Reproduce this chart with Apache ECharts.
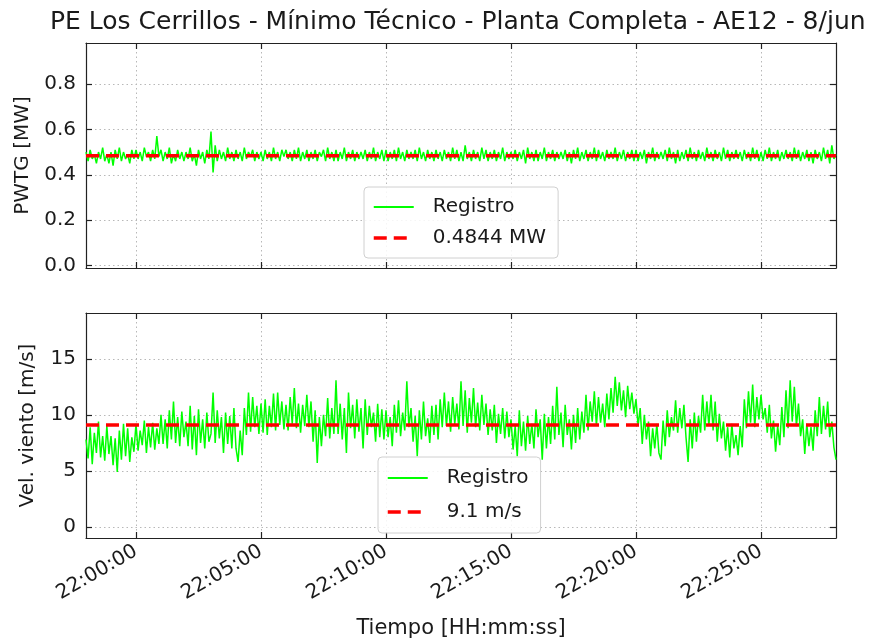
<!DOCTYPE html>
<html><head><meta charset="utf-8">
<script src="https://cdn.jsdelivr.net/npm/echarts@6/dist/echarts.min.js"></script>
<style>html,body{margin:0;padding:0;background:#fff}#c{width:878px;height:644px}</style>
</head><body><div id="c"></div>
<script>
const titleText = 'PE Los Cerrillos - Mínimo Técnico - Planta Completa - AE12 - 8/jun';
const startSec = 79080; // 21:58:00
const endSec = 80880;   // 22:28:00
const stepSec = 5;
const powerValues = [
.50,.46,.51,.47,.49,.45,.50,.47,.52,.46,.49,.45,
.50,.44,.51,.47,.52,.46,.50,.47,.49,.45,.51,.47,
.51,.47,.50,.46,.52,.48,.50,.46,.51,.47,.57,.48,
.51,.46,.50,.47,.52,.45,.49,.46,.51,.47,.50,.46,
.50,.47,.52,.46,.49,.44,.51,.47,.50,.45,.51,.47,
.59,.41,.53,.46,.51,.47,.50,.46,.52,.47,.50,.46,
.51,.47,.50,.46,.52,.47,.50,.48,.51,.46,.50,.47,
.50,.46,.51,.47,.50,.46,.52,.47,.50,.46,.51,.48,
.51,.47,.50,.46,.51,.47,.52,.46,.50,.47,.51,.46,
.50,.47,.51,.46,.50,.48,.51,.46,.52,.47,.50,.46,
.51,.46,.50,.47,.52,.46,.50,.47,.51,.46,.50,.47,
.50,.47,.51,.46,.50,.47,.52,.46,.50,.47,.51,.46,
.51,.46,.50,.47,.51,.46,.52,.47,.50,.46,.51,.47,
.50,.47,.51,.46,.52,.47,.50,.46,.51,.47,.50,.46,
.51,.47,.50,.46,.51,.47,.50,.46,.52,.47,.51,.46,
.50,.46,.53,.47,.50,.46,.51,.47,.50,.46,.52,.47,
.51,.46,.50,.47,.51,.46,.50,.47,.52,.46,.50,.47,
.50,.47,.51,.46,.50,.47,.51,.45,.52,.47,.50,.46,
.51,.46,.50,.47,.52,.46,.50,.47,.51,.46,.50,.47,
.50,.47,.51,.46,.50,.45,.51,.47,.52,.46,.50,.47,
.51,.46,.50,.47,.52,.46,.51,.47,.50,.46,.51,.47,
.50,.47,.52,.46,.50,.47,.51,.46,.50,.47,.51,.46,
.51,.46,.50,.47,.51,.45,.50,.47,.52,.46,.50,.47,
.50,.47,.51,.46,.52,.47,.50,.45,.51,.46,.50,.47,
.51,.46,.52,.47,.50,.46,.51,.47,.50,.46,.52,.47,
.50,.46,.51,.47,.50,.46,.52,.47,.51,.46,.50,.47,
.51,.47,.50,.46,.51,.47,.50,.46,.52,.47,.51,.46,
.50,.46,.51,.47,.52,.46,.50,.47,.51,.46,.50,.47,
.51,.47,.50,.46,.52,.47,.51,.46,.50,.47,.51,.46,
.50,.45,.51,.47,.50,.46,.52,.47,.51,.45,.53,.47,
.49
];
const windValues = [
7.8,6.1,8.9,5.6,8.4,6.6,9.4,6.2,8.1,5.9,9.0,6.5,
8.1,5.5,7.9,4.9,8.6,6.0,9.2,6.3,8.8,5.8,8.0,6.7,
9.2,6.8,8.6,7.3,9.5,6.6,8.9,7.1,9.3,6.9,8.8,7.4,
10.0,7.4,9.6,7.0,10.4,7.8,11.2,7.5,9.8,7.2,10.3,8.0,
9.4,7.2,10.8,6.9,9.9,6.4,10.5,7.5,9.6,7.0,10.2,7.6,
8.3,12.0,7.5,10.4,7.9,9.8,6.6,10.2,7.4,9.9,7.0,10.6,
7.0,5.8,8.6,6.4,10.6,8.2,12.0,8.5,11.6,8.9,10.8,8.3,
11.0,8.4,11.4,8.2,10.8,8.9,11.9,8.6,12.0,9.1,11.2,8.7,
10.9,8.6,11.6,9.2,12.4,8.8,11.0,8.4,10.9,9.0,11.8,8.9,
11.2,7.6,10.4,5.7,9.8,7.2,10.0,8.1,11.5,7.9,10.6,8.3,
13.1,8.3,11.0,7.8,10.6,6.6,12.0,8.8,10.9,7.9,11.4,8.5,
10.6,7.0,11.4,8.2,10.8,8.9,10.2,7.6,11.0,8.0,10.5,7.8,
10.4,8.0,9.8,7.2,10.9,8.4,11.3,8.1,10.2,8.6,13.0,8.9,
10.6,7.6,9.9,6.3,10.4,7.8,11.2,8.1,9.7,7.5,10.8,8.2,
10.9,7.8,11.4,8.9,12.0,9.0,11.2,8.5,11.6,9.2,11.0,8.7,
13.0,9.0,12.2,8.4,11.5,9.3,12.4,8.9,11.1,8.6,11.8,9.1,
11.0,8.2,10.5,8.6,10.9,7.5,10.1,8.3,10.6,7.9,10.3,8.0,
9.6,6.9,9.0,6.3,10.4,7.2,9.4,6.8,9.9,7.4,9.2,7.0,
10.5,8.0,9.6,6.0,10.1,7.0,9.8,7.4,10.8,7.8,12.5,8.2,
10.2,7.1,10.9,8.2,9.6,6.9,10.0,7.5,10.6,7.8,10.3,8.4,
11.8,8.6,11.2,9.4,12.1,9.0,11.6,9.3,11.0,8.9,11.9,9.6,
12.4,10.2,13.4,10.8,12.9,10.4,12.2,9.8,12.6,10.5,12.0,10.1,
11.4,9.0,10.6,7.4,10.0,7.8,9.4,6.3,8.8,7.0,9.2,6.6,
6.0,9.5,7.2,10.4,8.0,9.8,8.6,11.3,8.4,10.6,8.8,10.9,
8.0,5.8,9.6,7.0,10.2,7.6,9.9,8.4,11.8,8.6,11.2,9.0,
11.8,8.6,11.2,7.6,10.1,7.9,9.4,6.8,8.9,6.2,9.2,7.0,
8.2,6.4,9.0,7.1,11.4,8.8,12.1,9.3,12.7,8.9,11.6,9.6,
11.8,9.6,10.6,8.4,10.9,7.9,9.5,6.7,9.0,7.3,10.7,8.0,
12.2,8.8,13.1,9.4,12.5,9.0,11.0,8.1,9.6,6.5,9.2,7.2,
8.9,6.8,10.4,8.1,11.6,8.3,10.8,8.7,11.2,8.0,9.4,7.1,
6.0
];
const powerMean = 0.4844;
const windMean = 9.1;
const powerMeanLabel = '0.4844 MW';
const windMeanLabel = '9.1 m/s';
const seriesLabel = 'Registro';
const xTickSec = [79200, 79500, 79800, 80100, 80400, 80700];
const powerTicks = [0, 0.2, 0.4, 0.6, 0.8];
const windTicks = [0, 5, 10, 15];

function fmtTime(s) {
  const h = Math.floor(s / 3600), m = Math.floor((s % 3600) / 60), sec = s % 60;
  const p = n => String(n).padStart(2, '0');
  return p(h) + ':' + p(m) + ':' + p(sec);
}
const powerData = powerValues.map((v, i) => [startSec + i * stepSec, v]);
const windData = windValues.map((v, i) => [startSec + i * stepSec, v]);

const FONT = 'DejaVu Sans';
const TXT = '#1a1a1a';
const frame = { show: true, onZero: false, lineStyle: { color: '#222', width: 1.2 } };
const grid = { show: true, lineStyle: { color: '#b8b8b8', type: [1.5, 3], width: 1 } };

function xAx(gi, pos, labels, split) {
  return {
    type: 'value', gridIndex: gi, position: pos, min: startSec, max: endSec,
    axisLine: frame,
    axisTick: { show: true, inside: true, length: 6, customValues: xTickSec, lineStyle: { color: '#222', width: 1.2 } },
    axisLabel: labels ? {
      show: true, customValues: xTickSec, rotate: 30, fontFamily: FONT, fontSize: 20, color: TXT, margin: 12,
      formatter: v => fmtTime(v)
    } : { show: false, customValues: xTickSec },
    splitLine: split ? grid : { show: false },
    name: (labels ? 'Tiempo [HH:mm:ss]' : ''), nameLocation: 'middle', nameGap: 80,
    nameTextStyle: { fontFamily: FONT, fontSize: 21, color: TXT }
  };
}
function yAx(gi, pos, min, max, ticks, name, nameGap, dec, split) {
  const left = pos === 'left';
  return {
    type: 'value', gridIndex: gi, position: pos, min: min, max: max,
    axisLine: frame,
    axisTick: { show: true, inside: true, length: 6, customValues: ticks, lineStyle: { color: '#222', width: 1.2 } },
    axisLabel: left ? { show: true, customValues: ticks, fontFamily: FONT, fontSize: 20, color: TXT, margin: 10,
      formatter: v => v.toFixed(dec) } : { show: false, customValues: ticks },
    splitLine: split ? grid : { show: false },
    name: left ? name : '', nameLocation: 'middle', nameGap: nameGap,
    nameTextStyle: { fontFamily: FONT, fontSize: 20, color: TXT }
  };
}

const legendBase = {
  orient: 'vertical', backgroundColor: 'rgba(255,255,255,0.85)', borderColor: '#d0d0d0', borderWidth: 1,
  borderRadius: 4, padding: [10, 12, 10, 8], itemWidth: 40, itemHeight: 14,
  itemStyle: { opacity: 0 },
  textStyle: { fontFamily: FONT, fontSize: 20, color: TXT, padding: [0, 0, 0, 14] }
};
const greenLeg = { name: seriesLabel, lineStyle: { width: 2 } };

const chart = echarts.init(document.getElementById('c'), null, { renderer: 'canvas' });
chart.setOption({
  backgroundColor: '#fff',
  animation: false,
  title: { text: titleText, left: 45, top: 5, textStyle: { fontFamily: FONT, fontSize: 25, fontWeight: 'normal', color: TXT } },
  grid: [
    { left: 86, top: 43, width: 750, height: 225 },
    { left: 86, top: 313, width: 750, height: 225 }
  ],
  xAxis: [ xAx(0, 'bottom', false, true), xAx(0, 'top', false, false), xAx(1, 'bottom', true, true), xAx(1, 'top', false, false) ],
  yAxis: [
    yAx(0, 'left', -0.01, 0.98, powerTicks, 'PWTG [MW]', 53, 1, true),
    yAx(0, 'right', -0.01, 0.98, powerTicks, '', 0, 1, false),
    yAx(1, 'left', -1, 19.1, windTicks, 'Vel. viento [m/s]', 48, 0, true),
    yAx(1, 'right', -1, 19.1, windTicks, '', 0, 0, false)
  ],
  legend: [
    Object.assign({}, legendBase, { left: 364, top: 187, itemGap: 11, data: [greenLeg, { name: powerMeanLabel, lineStyle: { width: 3.5 } }] }),
    Object.assign({}, legendBase, { left: 378, top: 457, itemGap: 14, padding: [11, 12, 11, 8], data: [greenLeg, { name: windMeanLabel, lineStyle: { width: 3.5 } }] })
  ],
  series: [
    { name: seriesLabel, type: 'line', xAxisIndex: 0, yAxisIndex: 0, data: powerData, showSymbol: false, symbol: 'none',
      lineStyle: { color: '#00ff00', width: 1.5 }, itemStyle: { color: '#00ff00' }, z: 2 },
    { name: powerMeanLabel, type: 'line', xAxisIndex: 0, yAxisIndex: 0, data: [[startSec, powerMean], [endSec, powerMean]],
      showSymbol: false, symbol: 'none', lineStyle: { color: '#ff0000', width: 3.5, type: [13, 7] }, itemStyle: { color: '#ff0000' }, z: 3 },
    { name: seriesLabel, type: 'line', xAxisIndex: 2, yAxisIndex: 2, data: windData, showSymbol: false, symbol: 'none',
      lineStyle: { color: '#00ff00', width: 1.5 }, itemStyle: { color: '#00ff00' }, z: 2 },
    { name: windMeanLabel, type: 'line', xAxisIndex: 2, yAxisIndex: 2, data: [[startSec, windMean], [endSec, windMean]],
      showSymbol: false, symbol: 'none', lineStyle: { color: '#ff0000', width: 3.5, type: [13, 7] }, itemStyle: { color: '#ff0000' }, z: 3 }
  ]
});
</script></body></html>
